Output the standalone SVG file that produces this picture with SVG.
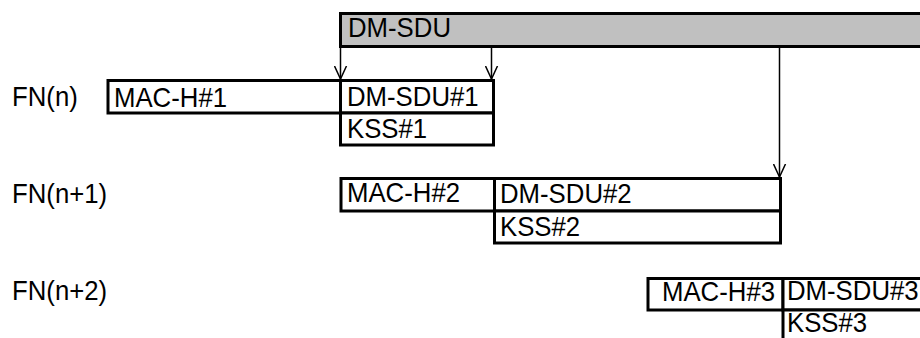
<svg xmlns="http://www.w3.org/2000/svg" width="920" height="338" viewBox="0 0 920 338">
<defs>
<style>
.box{fill:#fff;stroke:#000;stroke-width:3}
.hdr{fill:#c0c0c0;stroke:#000;stroke-width:3}
.t{font-family:"Liberation Sans",Arial,sans-serif;font-size:28px;fill:#000}
.conn{stroke:#000;stroke-width:1.5;fill:none}
</style>
<marker id="arr" viewBox="0 0 14 14" refX="13" refY="7" markerWidth="14" markerHeight="14" markerUnits="userSpaceOnUse" orient="auto">
<path d="M0,1 L13,7 L0,13" fill="none" stroke="#000" stroke-width="1.5"/>
</marker>
</defs>
<rect width="920" height="338" fill="#fff"/>

<g id="dm-sdu">
<rect class="hdr" x="340.5" y="13.5" width="600" height="33"/>
<text class="t" transform="translate(348,37) scale(0.92,1)">DM-SDU</text>
</g>

<g id="connectors">
<line class="conn" x1="340.5" y1="47" x2="340.5" y2="79" marker-end="url(#arr)"/>
<line class="conn" x1="491.5" y1="47" x2="491.5" y2="79" marker-end="url(#arr)"/>
<line class="conn" x1="779.5" y1="47" x2="779.5" y2="177" marker-end="url(#arr)"/>
</g>

<g id="fn-n">
<text class="t" transform="translate(12,106) scale(0.92,1)">FN(n)</text>
</g>
<g id="mac-h1">
<rect class="box" x="108" y="80.5" width="232.5" height="32.5"/>
<text class="t" transform="translate(114,107) scale(0.92,1)">MAC-H#1</text>
</g>
<g id="dm-sdu1">
<rect class="box" x="340.5" y="80.5" width="153" height="32.5"/>
<text class="t" transform="translate(347,106) scale(0.92,1)">DM-SDU#1</text>
</g>
<g id="kss1">
<rect class="box" x="340.5" y="113" width="153" height="32"/>
<text class="t" transform="translate(347,138) scale(0.92,1)">KSS#1</text>
</g>

<g id="fn-n1">
<text class="t" transform="translate(12,203) scale(0.92,1)">FN(n+1)</text>
</g>
<g id="mac-h2">
<rect class="box" x="341" y="178.5" width="153.5" height="32.5"/>
<text class="t" transform="translate(347,202) scale(0.92,1)">MAC-H#2</text>
</g>
<g id="dm-sdu2">
<rect class="box" x="494.5" y="178.5" width="286" height="32.5"/>
<text class="t" transform="translate(500,203) scale(0.92,1)">DM-SDU#2</text>
</g>
<g id="kss2">
<rect class="box" x="494.5" y="211" width="286" height="32"/>
<text class="t" transform="translate(500,236) scale(0.92,1)">KSS#2</text>
</g>

<g id="fn-n2">
<text class="t" transform="translate(12,300) scale(0.92,1)">FN(n+2)</text>
</g>
<g id="mac-h3">
<rect class="box" x="648" y="278.5" width="135" height="31.5"/>
<text class="t" transform="translate(662,301) scale(0.92,1)">MAC-H#3</text>
</g>
<g id="dm-sdu3">
<rect class="box" x="783" y="278.5" width="160" height="31.5"/>
<text class="t" transform="translate(787,300) scale(0.92,1)">DM-SDU#3</text>
</g>
<g id="kss3">
<rect class="box" x="783" y="310" width="160" height="60"/>
<text class="t" transform="translate(787,332) scale(0.92,1)">KSS#3</text>
</g>
</svg>
